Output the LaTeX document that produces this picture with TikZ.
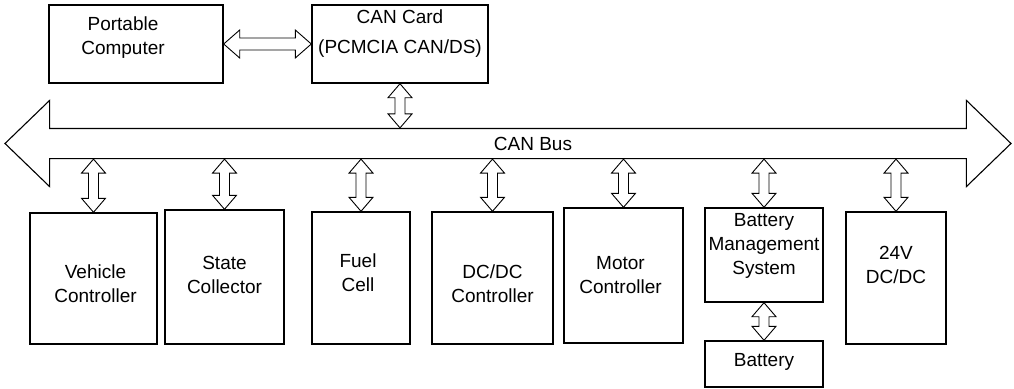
\documentclass[tikz,border=0pt]{standalone}
\usepackage{fontspec}
\setmainfont{Liberation Sans}
\usepackage{tikz}
\usetikzlibrary{calc,shapes.arrows}

\begin{document}
\begin{tikzpicture}[
    x=1pt, y=-1pt,
    every node/.style={font=\fontsize{19}{24}\selectfont},
    box/.style={rectangle,draw,line width=1.4pt,inner sep=0pt},
    txt/.style={align=center},
    bus/.style={double arrow,draw,line width=1.1pt,inner xsep=0pt,inner ysep=14.5pt,
                double arrow head extend=28pt,double arrow tip angle=88},
    hollow arrow/.style n args={3}{draw,line width=0.9pt,line join=miter,
      to path={let \p1=(\tikztostart), \p2=(\tikztotarget),
        \p3=($(\p1)!#1!(\p2)$), \p4=($(\p2)!#1!(\p1)$) in
        (\p1) -- ($(\p3)!#2!90:(\p2)$) -- ($(\p3)!#3!90:(\p2)$)
        -- ($(\p4)!#3!-90:(\p1)$) -- ($(\p4)!#2!-90:(\p1)$)
        -- (\p2) -- ($(\p4)!#2!90:(\p1)$) -- ($(\p4)!#3!90:(\p1)$)
        -- ($(\p3)!#3!-90:(\p2)$) -- ($(\p3)!#2!-90:(\p2)$) -- cycle}},
    conn/.style={hollow arrow={14pt}{12pt}{5pt}}
  ]
    \useasboundingbox (0,0) rectangle (1014,388);

    % top row
    \node[box,minimum width=174pt,minimum height=78pt,
          label={[txt,xshift=-13pt,yshift=6pt]center:Portable\\Computer}] (pc) at (136,44) {};
    \node[box,minimum width=176pt,minimum height=78pt,
          label={[txt,yshift=10pt]center:CAN Card\\[6pt](PCMCIA CAN/DS)}] (can) at (400,44) {};

    % bus
    \node[bus,minimum height=1006pt,
          label={[xshift=25pt]center:CAN Bus}] (bus) at (508,143.5) {};

    % devices on the bus
    \node[box,minimum width=127pt,minimum height=131pt,
          label={[txt,xshift=2pt,yshift=-5pt]center:Vehicle\\Controller}] (vc) at (93.5,278.5) {};
    \node[box,minimum width=119pt,minimum height=134pt,
          label={[txt,yshift=2.5pt]center:State\\Collector}] (sc) at (224.5,277) {};
    \node[box,minimum width=98pt,minimum height=132pt,
          label={[txt,xshift=-3pt,yshift=5pt]center:Fuel\\Cell}] (fc) at (361,278) {};
    \node[box,minimum width=121pt,minimum height=132pt,
          label={[txt,yshift=-5.5pt]center:DC/DC\\Controller}] (dc) at (492.5,278) {};
    \node[box,minimum width=119pt,minimum height=135pt,
          label={[txt,xshift=-3pt]center:Motor\\Controller}] (mc) at (623.5,275.5) {};
    \node[box,minimum width=118pt,minimum height=94pt,
          label={[txt,yshift=9pt]center:Battery\\Management\\System}] (bms) at (764,255) {};
    \node[box,minimum width=118pt,minimum height=46pt,
          label={[yshift=2pt]center:Battery}] (bat) at (764,364) {};
    \node[box,minimum width=100pt,minimum height=132pt,
          label={[txt,yshift=13.5pt]center:24V\\DC/DC}] (dcdc) at (896,278) {};

    % connections
    \draw[hollow arrow={16pt}{14pt}{6pt}] (pc.east) to (can.west);
    \draw[conn] (can.south) to (can.south |- bus.north);
    \foreach \dev in {vc,sc,fc,dc,mc,bms,dcdc}
      \draw[conn] (\dev.north |- bus.south) to (\dev.north);
    \draw[conn] (bms.south) to (bat.north);
  \end{tikzpicture}
\end{document}
